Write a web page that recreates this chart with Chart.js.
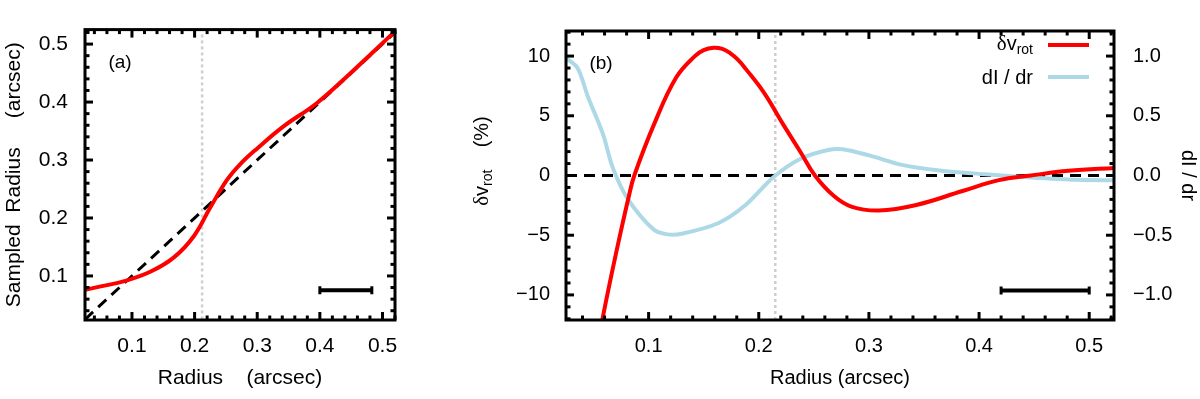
<!DOCTYPE html>
<html>
<head>
<meta charset="utf-8">
<script src="https://cdn.jsdelivr.net/npm/chart.js@4.4.1/dist/chart.umd.min.js"></script>
<style>
  html, body { margin: 0; padding: 0; background: #fff; }
  #wrap { position: relative; width: 1200px; height: 399px; overflow: hidden; }
  canvas { position: absolute; top: 0; }
  #cA { left: 0; }
  #cB { left: 470px; }
</style>
</head>
<body>
<div id="wrap">
  <canvas id="cA" width="470" height="399"></canvas>
  <canvas id="cB" width="730" height="399"></canvas>
</div>
<script>
const FONT  = "'Liberation Sans', Arial, sans-serif";
const SERIF = "'Liberation Serif', 'Times New Roman', serif";
const RED   = '#ff0000';
const BLUE  = '#add8e6';

// panel (a): sampled radius against radius
const aRadius  = [0.025, 0.05, 0.088, 0.13, 0.167, 0.199, 0.225, 0.252, 0.273, 0.30, 0.342, 0.395, 0.448, 0.52];
const aSampled = [0.076, 0.082, 0.091, 0.1076, 0.132, 0.169, 0.218, 0.266, 0.293, 0.32, 0.358, 0.398, 0.449, 0.522];
const aRange   = [0.025, 0.52];
const aBeamX   = [0.40, 0.483];
const aBeamY   = 0.0753;
const aMarkX   = 0.212;

// panel (b): rotation velocity deviation and intensity gradient
const bRadiusV = [0.052, 0.0585, 0.0707, 0.0821, 0.087, 0.105, 0.125, 0.142, 0.150, 0.159, 0.167, 0.174, 0.181, 0.188, 0.205, 0.222, 0.238, 0.251, 0.268, 0.284, 0.309, 0.343, 0.385, 0.418, 0.447, 0.481, 0.525];
const bDeltaV  = [-15.2, -11.84, -6.4, -1.71, 0, 4.3, 8.2, 10.0, 10.5, 10.7, 10.6, 10.25, 9.7, 8.95, 6.9, 4.3, 1.95, 0, -1.7, -2.6, -2.93, -2.47, -1.3, -0.39, 0, 0.39, 0.65];
const bRadiusI = [0.025, 0.0355, 0.0449, 0.0585, 0.0676, 0.0812, 0.1046, 0.117, 0.130, 0.163, 0.188, 0.213, 0.238, 0.263, 0.276, 0.301, 0.330, 0.364, 0.406, 0.447, 0.489, 0.525];
const bDIdr    = [0.984, 0.90, 0.66, 0.348, 0.062, -0.197, -0.453, -0.493, -0.488, -0.40, -0.247, -0.016, 0.14, 0.213, 0.219, 0.166, 0.089, 0.042, 0.01, -0.016, -0.036, -0.04];
const bRangeX  = [0.025, 0.5225];
const bRangeV  = [-12.1, 12.1];
const bRangeI  = [-1.21, 1.21];
const bBeamX   = [0.42, 0.50];
const bBeamY   = -9.63;
const bMarkX   = 0.215;

// ticks
const xMajor   = [0.1, 0.2, 0.3, 0.4, 0.5];
const xMinor   = [0.04, 0.06, 0.08, 0.12, 0.14, 0.16, 0.18, 0.22, 0.24, 0.26, 0.28, 0.32, 0.34, 0.36, 0.38, 0.42, 0.44, 0.46, 0.48, 0.52];
const vMajor   = [-10, -5, 0, 5, 10];
const vLabels  = ['\u221210', '\u22125', '0', '5', '10'];
const vMinor   = [-12, -11, -9, -8, -7, -6, -4, -3, -2, -1, 1, 2, 3, 4, 6, 7, 8, 9, 11, 12];
const iMajor   = [-1, -0.5, 0, 0.5, 1];
const iLabels  = ['\u22121.0', '\u22120.5', '0.0', '0.5', '1.0'];

const pts = (xs, ys) => xs.map((x, i) => ({ x, y: ys[i] }));
const line = (data, color, width, extra) => Object.assign(
  { data, showLine: true, borderColor: color, borderWidth: width, pointRadius: 0, fill: false }, extra);
const fixTicks = vals => s => { s.ticks = vals.map(v => ({ value: v })); };

// frame, inward ticks and the panel tag
const frame = {
  id: 'frame',
  afterDatasetsDraw(chart, args, o) {
    const { ctx, chartArea: a, scales } = chart;
    const xs = scales.x, ys = scales.y;
    ctx.save();
    ctx.strokeStyle = '#000';
    ctx.lineWidth = 3;
    const seg = (x0, y0, x1, y1) => { ctx.beginPath(); ctx.moveTo(x0, y0); ctx.lineTo(x1, y1); ctx.stroke(); };
    const xt = (vals, len) => vals.forEach(v => {
      const p = xs.getPixelForValue(v);
      seg(p, a.bottom, p, a.bottom - len); seg(p, a.top, p, a.top + len);
    });
    const yt = (vals, len) => vals.forEach(v => {
      const p = ys.getPixelForValue(v);
      seg(a.left, p, a.left + len, p); seg(a.right, p, a.right - len, p);
    });
    xt(o.xMinor, 4.5); xt(o.xMajor, 8);
    yt(o.yMinor, 4.5); yt(o.yMajor, 8);
    ctx.strokeRect(a.left, a.top, a.right - a.left, a.bottom - a.top);

    ctx.fillStyle = '#000';
    ctx.font = '19px ' + FONT;
    ctx.textAlign = 'center';
    ctx.textBaseline = 'middle';
    ctx.fillText(o.tag, a.left + 35, a.top + 33);
    ctx.restore();
  }
};

// text with a subscript, drawn piece by piece
function rich(ctx, parts, x, y, rot, align) {
  ctx.save();
  ctx.translate(x, y);
  ctx.rotate(rot);
  ctx.fillStyle = '#000';
  ctx.textBaseline = 'alphabetic';
  ctx.textAlign = 'left';
  let w = 0;
  parts.forEach(p => { ctx.font = p.font; w += ctx.measureText(p.t).width; });
  let cx = align === 'center' ? -w / 2 : align === 'right' ? -w : 0;
  parts.forEach(p => { ctx.font = p.font; ctx.fillText(p.t, cx, p.dy || 0); cx += ctx.measureText(p.t).width; });
  ctx.restore();
}

const dvParts = tail => [
  { t: '\u03b4', font: '21px ' + SERIF },
  { t: 'v', font: '20px ' + FONT },
  { t: 'rot', font: '14px ' + FONT, dy: 4 },
].concat(tail ? [{ t: tail, font: '20px ' + FONT }] : []);

const extras = {
  id: 'extras',
  afterDraw(chart) {
    const ctx = chart.ctx;
    // left axis title
    rich(ctx, dvParts('    (%)'), 18, 161, -Math.PI / 2, 'center');
    // legend
    rich(ctx, dvParts(''), 563, 50, 0, 'right');
    rich(ctx, [{ t: 'dI / dr', font: '20px ' + FONT }], 563, 84, 0, 'right');
    ctx.save();
    ctx.lineWidth = 4;
    ctx.strokeStyle = RED;
    ctx.beginPath(); ctx.moveTo(578, 45); ctx.lineTo(619, 45); ctx.stroke();
    ctx.strokeStyle = BLUE;
    ctx.beginPath(); ctx.moveTo(578, 77); ctx.lineTo(619, 77); ctx.stroke();
    ctx.restore();
  }
};

const tickFont = size => ({ family: FONT, size });
const base = {
  responsive: false,
  animation: false,
  devicePixelRatio: 1,
  events: [],
};

// panel (a)
new Chart(document.getElementById('cA'), {
  type: 'scatter',
  data: {
    datasets: [
      line(pts(aRadius, aSampled), RED, 4, { tension: 0.4 }),
      line(pts(aRange, aRange), '#000', 3, { borderDash: [11, 7] }),
      line(pts([aMarkX, aMarkX], aRange), '#cfcfcf', 2.5, { borderDash: [3, 3] }),
      line(pts(aBeamX, [aBeamY, aBeamY]), '#000', 4,
        { pointStyle: 'line', rotation: 90, pointRadius: 4, pointBorderWidth: 3, pointBorderColor: '#000' }),
    ],
  },
  options: Object.assign({}, base, {
    layout: { padding: { top: 9, right: 75, left: 0, bottom: 0 } },
    plugins: {
      legend: { display: false },
      tooltip: { enabled: false },
      frame: { xMajor, xMinor, yMajor: xMajor, yMinor: xMinor, tag: '(a)' },
    },
    scales: {
      x: {
        type: 'linear', min: aRange[0], max: aRange[1],
        afterFit(s) { s.height = 79; },
        afterBuildTicks: fixTicks(xMajor),
        grid: { display: false, drawTicks: false },
        border: { display: false },
        ticks: { color: '#000', padding: 14, font: tickFont(21), callback: v => v.toFixed(1) },
        title: { display: true, text: 'Radius    (arcsec)', color: '#000', font: tickFont(21), padding: { top: 0, bottom: 8 } },
      },
      y: {
        type: 'linear', min: 0.024, max: 0.525,
        afterFit(s) { s.width = 85; },
        afterBuildTicks: fixTicks(xMajor),
        grid: { display: false, drawTicks: false },
        border: { display: false },
        ticks: { color: '#000', padding: 17, font: tickFont(21), callback: v => v.toFixed(1) },
        title: { display: true, text: 'Sampled  Radius     (arcsec)', color: '#000', font: tickFont(21), padding: { top: 1.5, bottom: 0 } },
      },
    },
  }),
  plugins: [frame],
});

// panel (b)
new Chart(document.getElementById('cB'), {
  type: 'scatter',
  data: {
    datasets: [
      line(pts(bRadiusV, bDeltaV), RED, 4, { tension: 0.4 }),
      line(pts(bRadiusI, bDIdr), BLUE, 4, { tension: 0.3, yAxisID: 'y2' }),
      line(pts(bRangeX, [0, 0]), '#000', 3, { borderDash: [11, 7] }),
      line(pts([bMarkX, bMarkX], bRangeV), '#cfcfcf', 2.5, { borderDash: [3, 3] }),
      line(pts(bBeamX, [bBeamY, bBeamY]), '#000', 4,
        { pointStyle: 'line', rotation: 90, pointRadius: 4, pointBorderWidth: 3, pointBorderColor: '#000' }),
    ],
  },
  options: Object.assign({}, base, {
    layout: { padding: { top: 10, right: 0, left: 0, bottom: 0 } },
    plugins: {
      legend: { display: false },
      tooltip: { enabled: false },
      frame: { xMajor, xMinor, yMajor: vMajor, yMinor: vMinor, tag: '(b)' },
    },
    scales: {
      x: {
        type: 'linear', min: bRangeX[0], max: bRangeX[1],
        afterFit(s) { s.height = 79; },
        afterBuildTicks: fixTicks(xMajor),
        grid: { display: false, drawTicks: false },
        border: { display: false },
        ticks: { color: '#000', padding: 14, font: tickFont(20), callback: v => v.toFixed(1) },
        title: { display: true, text: 'Radius (arcsec)', color: '#000', font: tickFont(20), padding: { top: 0, bottom: 9 } },
      },
      y: {
        type: 'linear', position: 'left', min: bRangeV[0], max: bRangeV[1],
        afterFit(s) { s.width = 96; },
        afterBuildTicks: fixTicks(vMajor),
        grid: { display: false, drawTicks: false },
        border: { display: false },
        ticks: { color: '#000', padding: 16, font: tickFont(20), callback: (v, i) => vLabels[i] },
      },
      y2: {
        type: 'linear', position: 'right', min: bRangeI[0], max: bRangeI[1],
        afterFit(s) { s.width = 86; },
        afterBuildTicks: fixTicks(iMajor),
        grid: { display: false, drawTicks: false },
        border: { display: false },
        ticks: { color: '#000', padding: 19, font: tickFont(20), callback: (v, i) => iLabels[i] },
        title: { display: true, text: 'dI / dr', color: '#000', font: tickFont(20), padding: { top: 0, bottom: 0 } },
      },
    },
  }),
  plugins: [frame, extras],
});
</script>
</body>
</html>
